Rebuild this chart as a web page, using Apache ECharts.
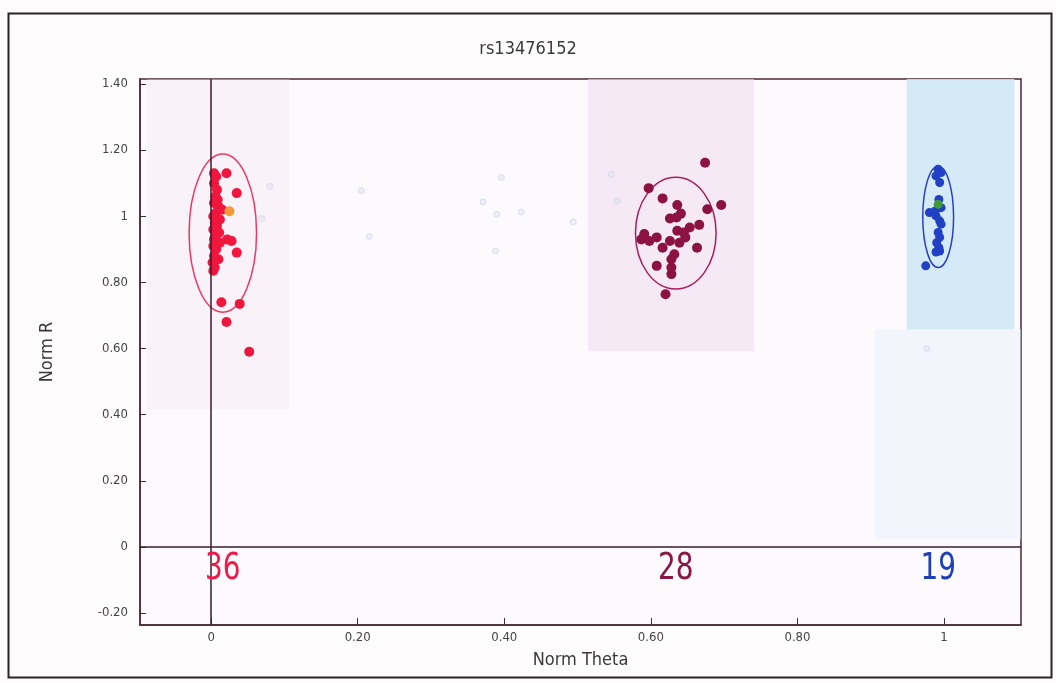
<!DOCTYPE html>
<html>
<head>
<meta charset="utf-8">
<title>rs13476152</title>
<script src="https://cdn.jsdelivr.net/npm/echarts@6/dist/echarts.min.js"></script>
<style>
  html, body { margin: 0; padding: 0; background: #fefcfd; }
  #chart { width: 1056px; height: 683px; }
</style>
</head>
<body>
<div id="chart"></div>
<script>
// SNP genotype cluster plot: normalized theta vs normalized R

const snpName = 'rs13476152';

// Homozygous AA cluster (theta near 0)
const aaPoints = [
  [0.004, 1.13], [0.007, 1.12], [0.021, 1.13], [0.004, 1.10], [0.008, 1.08],
  [0.006, 1.06], [0.035, 1.07], [0.004, 1.04], [0.010, 1.03], [0.006, 1.01],
  [0.003, 1.00], [0.012, 0.99], [0.005, 0.98], [0.008, 0.97], [0.003, 0.96],
  [0.011, 0.95], [0.006, 0.94], [0.004, 0.93], [0.028, 0.925], [0.022, 0.93],
  [0.012, 0.92], [0.003, 0.91], [0.035, 0.89], [0.007, 0.90], [0.004, 0.88],
  [0.010, 0.87], [0.002, 0.86], [0.005, 0.845], [0.003, 0.835], [0.014, 0.74],
  [0.039, 0.735], [0.021, 0.68], [0.052, 0.59], [0.009, 1.05], [0.015, 1.02]
];
const aaSelected = [[0.025, 1.015]];

// Heterozygous AB cluster
const abPoints = [
  [0.674, 1.162], [0.597, 1.085], [0.616, 1.054], [0.636, 1.034], [0.696, 1.034],
  [0.677, 1.021], [0.641, 1.008], [0.626, 0.993], [0.635, 0.996], [0.666, 0.974],
  [0.653, 0.966], [0.636, 0.956], [0.591, 0.946], [0.587, 0.930], [0.608, 0.936],
  [0.598, 0.925], [0.647, 0.936], [0.626, 0.925], [0.639, 0.920], [0.616, 0.905],
  [0.663, 0.905], [0.632, 0.885], [0.628, 0.870], [0.608, 0.850], [0.628, 0.845],
  [0.628, 0.825], [0.620, 0.764], [0.645, 0.951]
];

// Homozygous BB cluster (theta near 1)
const bbPoints = [
  [0.992, 1.142], [0.996, 1.132], [0.994, 1.102], [0.989, 1.122], [0.993, 1.051],
  [0.996, 1.026], [0.980, 1.011], [0.989, 1.001], [0.994, 0.986], [0.996, 0.976],
  [0.992, 0.951], [0.994, 0.936], [0.990, 0.920], [0.993, 0.905], [0.989, 0.892],
  [0.994, 0.895], [0.975, 0.850], [0.988, 1.016]
];
const bbSelected = [[0.992, 1.036]];

// Faint uncalled samples
const otherPoints = [
  [0.080, 1.090], [0.069, 0.993], [0.205, 1.077], [0.216, 0.939], [0.396, 1.117],
  [0.371, 1.043], [0.390, 1.006], [0.423, 1.013], [0.388, 0.895], [0.494, 0.983],
  [0.546, 1.127], [0.554, 1.046], [0.976, 0.600]
];

// Cluster ellipses: [theta centre, R centre, theta radius, R radius]
const clusterEllipses = [
  [0.016, 0.949, 0.046, 0.239],
  [0.634, 0.949, 0.055, 0.169],
  [0.992, 0.998, 0.021, 0.153]
];

const clusterCounts = [
  aaPoints.length + aaSelected.length,
  abPoints.length,
  bbPoints.length + bbSelected.length
];

const xTicks = [0, 0.2, 0.4, 0.6, 0.8, 1];
const yTicks = [-0.2, 0, 0.2, 0.4, 0.6, 0.8, 1, 1.2, 1.4];

const clusterColors = ['#f0163e', '#8c1242', '#2140c4'];
const ellipseColors = ['#ea3a62', '#a8205e', '#2a3fc2'];
const countColors = ['#f01a4a', '#8a1846', '#1f40b8'];

const axisColor = '#4a2836';
const labelFont = '"DejaVu Sans Condensed", "Liberation Sans", sans-serif';

function tickText(v) {
  if (Math.abs(v) < 1e-9) return '0';
  if (Math.abs(v - 1) < 1e-9) return '1';
  return v.toFixed(2);
}

const chart = echarts.init(document.getElementById('chart'));

const option = {
  backgroundColor: '#fefcfd',
  animation: false,
  title: {
    text: snpName,
    left: 'center',
    top: 35,
    textStyle: { fontFamily: labelFont, fontSize: 18, fontWeight: 'normal', color: '#3a3a3a' }
  },
  graphic: [{
    type: 'rect',
    left: 6, top: 11,
    shape: { width: 1043, height: 664 },
    style: { fill: 'none', stroke: '#2a2226', lineWidth: 2 },
    silent: true,
    z: -1
  }],
  grid: {
    left: 140, right: 35, top: 79, bottom: 58,
    show: true,
    backgroundColor: '#fdfafd',
    borderColor: axisColor,
    borderWidth: 1.5
  },
  xAxis: {
    type: 'value',
    min: -0.097, max: 1.105,
    name: 'Norm Theta',
    nameLocation: 'middle',
    nameGap: 26,
    nameTextStyle: { fontFamily: labelFont, fontSize: 18, color: '#3a3a3a' },
    splitLine: { show: false },
    axisLine: { show: true, onZero: false, lineStyle: { color: axisColor, width: 1.5 } },
    axisTick: { show: true, inside: true, length: 7, customValues: xTicks, lineStyle: { color: axisColor } },
    axisLabel: {
      customValues: xTicks,
      formatter: tickText,
      margin: 6,
      fontFamily: labelFont, fontSize: 13, color: '#444'
    }
  },
  yAxis: {
    type: 'value',
    min: -0.236, max: 1.415,
    name: 'Norm R',
    nameLocation: 'middle',
    nameGap: 84,
    nameRotate: 90,
    nameTextStyle: { fontFamily: labelFont, fontSize: 18, color: '#3a3a3a' },
    splitLine: { show: false },
    axisLine: { show: true, onZero: false, lineStyle: { color: axisColor, width: 1.5 } },
    axisTick: { show: true, inside: true, length: 6, customValues: yTicks, lineStyle: { color: axisColor } },
    axisLabel: {
      customValues: yTicks,
      formatter: tickText,
      margin: 12,
      fontFamily: labelFont, fontSize: 13, color: '#444'
    }
  },
  series: [
    {
      // shaded call regions and the zero reference lines
      type: 'scatter',
      data: [],
      silent: true,
      z: 1,
      markArea: {
        silent: true,
        label: { show: false },
        data: [
          [{ coord: [-0.087, 1.415], itemStyle: { color: 'rgba(240, 226, 240, 0.35)' } }, { coord: [0.107, 0.416] }],
          [{ coord: [0.514, 1.415], itemStyle: { color: 'rgba(238, 222, 238, 0.6)' } }, { coord: [0.741, 0.592] }],
          [{ coord: [0.905, 0.658], itemStyle: { color: 'rgba(228, 242, 250, 0.45)' } }, { coord: [1.105, 0.023] }],
          [{ coord: [0.949, 1.415], itemStyle: { color: 'rgba(206, 230, 246, 0.85)' } }, { coord: [1.096, 0.658] }]
        ]
      },
      markLine: {
        silent: true,
        symbol: 'none',
        label: { show: false },
        lineStyle: { color: '#3a1c2c', width: 1.5, type: 'solid' },
        data: [{ xAxis: 0 }, { yAxis: 0 }]
      }
    },
    {
      name: 'uncalled',
      type: 'scatter',
      data: otherPoints,
      symbolSize: 6,
      itemStyle: { color: 'rgba(226, 230, 242, 0.6)', borderColor: 'rgba(208, 214, 232, 0.7)', borderWidth: 1, opacity: 1 },
      z: 2
    },
    {
      name: 'cluster ellipses',
      type: 'custom',
      data: clusterEllipses,
      z: 3,
      renderItem: function (params, api) {
        const c = api.coord([api.value(0), api.value(1)]);
        const s = api.size([api.value(2), api.value(3)]);
        return {
          type: 'ellipse',
          shape: { cx: c[0], cy: c[1], rx: s[0], ry: s[1] },
          style: { fill: 'none', stroke: ellipseColors[params.dataIndex], lineWidth: 1.5 }
        };
      }
    },
    {
      name: 'AA',
      type: 'scatter',
      data: aaPoints,
      symbolSize: 10,
      itemStyle: { color: clusterColors[0], opacity: 1 },
      z: 4
    },
    {
      name: 'AA selected',
      type: 'scatter',
      data: aaSelected,
      symbolSize: 10,
      itemStyle: { color: '#f39a36', opacity: 1 },
      z: 5
    },
    {
      name: 'AB',
      type: 'scatter',
      data: abPoints,
      symbolSize: 10,
      itemStyle: { color: clusterColors[1], opacity: 1 },
      z: 4
    },
    {
      name: 'BB',
      type: 'scatter',
      data: bbPoints,
      symbolSize: 9,
      itemStyle: { color: clusterColors[2], opacity: 1 },
      z: 4
    },
    {
      name: 'BB selected',
      type: 'scatter',
      data: bbSelected,
      symbolSize: 9,
      itemStyle: { color: '#3f9a3a', opacity: 1 },
      z: 5
    },
    {
      // sample counts written under each cluster
      name: 'counts',
      type: 'custom',
      silent: true,
      z: 6,
      data: clusterEllipses.map(function (e, i) {
        return [e[0], -0.068, clusterCounts[i], i];
      }),
      renderItem: function (params, api) {
        const p = api.coord([api.value(0), api.value(1)]);
        const i = api.value(3);
        return {
          type: 'text',
          x: p[0], y: p[1],
          scaleY: 1.22,
          style: {
            text: String(api.value(2)),
            fill: countColors[i],
            font: '31px ' + labelFont,
            textAlign: 'center',
            textVerticalAlign: 'middle'
          }
        };
      }
    }
  ]
};

chart.setOption(option);
</script>
</body>
</html>
